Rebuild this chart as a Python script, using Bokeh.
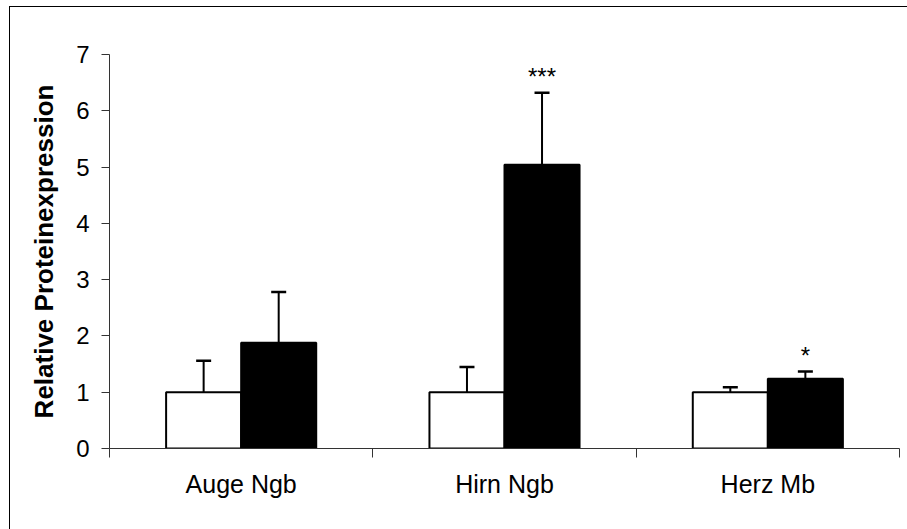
from bokeh.plotting import figure
from bokeh.models import Range1d, LinearAxis, FixedTicker, ColumnDataSource, Whisker, TeeHead
from bokeh.core.properties import value
from bokeh.embed import file_html
from bokeh.resources import INLINE

categories = ["Auge Ngb", "Hirn Ngb", "Herz Mb"]
control_vals = [1.0, 1.0, 1.0]
control_err = [0.56, 0.45, 0.09]
treated_vals = [1.88, 5.04, 1.24]
treated_err = [0.90, 1.28, 0.13]
treated_marks = ["", "***", "*"]
y_ticks = [0, 1, 2, 3, 4, 5, 6, 7]
y_label = "Relative Proteinexpression"

FONT = "Liberation Sans"
BAR_W = 0.285
OFF = BAR_W / 2

idx = list(range(len(categories)))
cx = [i + 0.5 - OFF for i in idx]
tx = [i + 0.5 + OFF for i in idx]

src_c = ColumnDataSource(dict(x=cx, top=control_vals,
                              up=[v + e for v, e in zip(control_vals, control_err)]))
src_t = ColumnDataSource(dict(x=tx, top=treated_vals,
                              up=[v + e for v, e in zip(treated_vals, treated_err)],
                              mark=treated_marks))

p = figure(frame_width=790, frame_height=394,
           min_border_left=99, min_border_right=8, min_border_top=47, min_border_bottom=81,
           x_range=Range1d(0, len(categories)), y_range=Range1d(0, 7),
           x_axis_type=None, y_axis_type=None,
           output_backend="svg", toolbar_location=None)
p.outline_line_color = None
p.xgrid.visible = False
p.ygrid.visible = False
p.background_fill_color = "white"
p.border_fill_color = "white"
p.styles = {"margin-left": "9px", "margin-top": "6px",
            "border-left": "1px solid black", "border-top": "1px solid black"}

# y axis
yax = LinearAxis(ticker=FixedTicker(ticks=y_ticks, minor_ticks=[]))
yax.axis_line_color = "#333333"
yax.major_tick_line_color = "#333333"
yax.major_tick_out = 8
yax.major_tick_in = 0
yax.minor_tick_line_color = None
yax.major_label_standoff = 12
yax.major_label_text_font = FONT
yax.major_label_text_font_size = "24px"
yax.major_label_text_color = "black"
yax.axis_label = y_label
yax.axis_label_text_font = FONT
yax.axis_label_text_font_size = "26px"
yax.axis_label_text_font_style = "bold"
yax.axis_label_text_color = "black"
yax.axis_label_standoff = 14
p.add_layout(yax, "left")

# x axis: labels at centres, boundary ticks as minor ticks
centres = [i + 0.5 for i in idx]
xax = LinearAxis(ticker=FixedTicker(ticks=centres, minor_ticks=list(range(len(categories) + 1))))
xax.major_label_overrides = {c: lab for c, lab in zip(centres, categories)}
xax.axis_line_color = "#333333"
xax.major_tick_line_color = None
xax.major_tick_out = 0
xax.major_tick_in = 0
xax.minor_tick_line_color = "#333333"
xax.minor_tick_out = 9
xax.minor_tick_in = 0
xax.major_label_standoff = 12
xax.major_label_text_font = FONT
xax.major_label_text_font_size = "25px"
xax.major_label_text_color = "black"
p.add_layout(xax, "below")

# bars
p.vbar(x="x", top="top", bottom=0, width=BAR_W, source=src_c,
       fill_color="white", line_color="black", line_width=2)
p.vbar(x="x", top="top", bottom=0, width=BAR_W, source=src_t,
       fill_color="black", line_color="black", line_width=2)

# error bars (upper only)
for src in (src_c, src_t):
    w = Whisker(base="x", lower="top", upper="up", source=src, dimension="height",
                line_color="black", line_width=2,
                upper_head=TeeHead(size=15, line_color="black", line_width=2.5),
                lower_head=None)
    p.add_layout(w)

# significance marks
p.text(x="x", y="up", text="mark", source=src_t, text_align="center",
       text_baseline="alphabetic", y_offset=-16,
       text_font=value(FONT), text_font_size="24px", text_color="black")

open("out.html", "w").write(file_html(p, INLINE))
